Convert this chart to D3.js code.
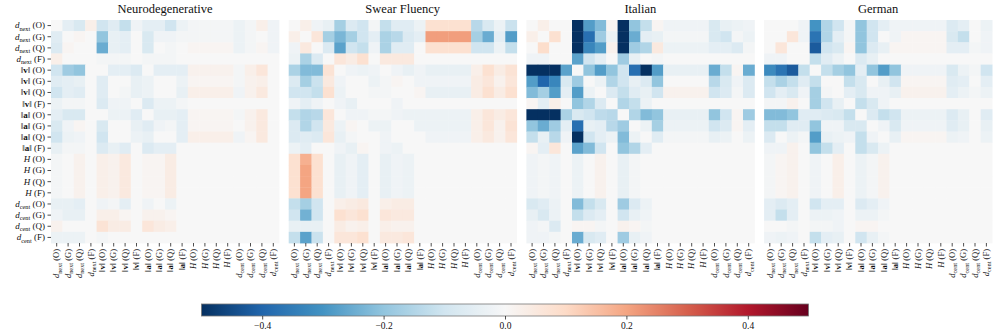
<!DOCTYPE html>
<html lang="en">
  <head>
    <meta charset="UTF-8" />
    <title>Metric correlation differences</title>
    <script src="https://d3js.org/d3.v7.min.js"></script>
    <style>
      body {
        margin: 0;
        background: #fff;
        font-family: 'Liberation Serif', 'DejaVu Serif', serif;
      }
      text {
        fill: #111;
        font-weight: normal;
      }
      .tick-line {
        stroke: #222;
        stroke-width: 0.8px;
      }
    </style>
  </head>
  <body>
    <svg width="997" height="335"></svg>
    <script>
      // row / column order of every matrix
      const metrics = ['next', 'v', 'a', 'H', 'cent'];
      const variants = ['O', 'G', 'Q', 'F'];
      const panelTitles = ['Neurodegenerative', 'Swear Fluency', 'Italian', 'German'];
      const colorTicks = [-0.4, -0.2, 0.0, 0.2, 0.4];

      const neuro = [
        [0, -.05, -.08, .03, -.1, -.06, -.12, -.02, -.05, -.05, -.1, -.03, -.01, -.01, -.01, -.01, -.03, -.01, .03, -.02],
        [-.06, 0, .01, 0, -.2, -.04, -.05, 0, -.08, -.02, -.02, -.01, -.01, -.01, -.01, -.01, -.03, -.01, 0, -.02],
        [-.07, .01, 0, 0, -.25, -.04, -.05, 0, -.08, 0, -.01, 0, .01, .01, .01, .01, -.03, -.01, .01, -.02],
        [.03, 0, 0, 0, -.01, -.01, -.01, 0, -.01, -.01, -.01, 0, 0, 0, 0, 0, 0, 0, 0, 0],
        [-.1, -.18, -.2, 0, 0, -.05, -.05, -.07, 0, -.05, -.05, -.05, .02, .02, .02, .02, -.01, .03, .06, 0],
        [-.06, -.05, -.04, 0, -.06, 0, 0, -.04, -.03, 0, 0, -.03, .01, .01, .01, .01, -.01, .02, .03, 0],
        [-.1, -.05, -.06, 0, -.06, 0, -.01, -.04, -.03, 0, 0, -.04, .03, .03, .03, .03, -.02, .02, .05, 0],
        [-.03, -.01, -.01, 0, -.07, -.02, -.02, 0, -.07, -.03, -.03, -.01, 0, 0, 0, 0, 0, 0, 0, 0],
        [-.05, -.08, -.08, 0, 0, -.03, -.03, -.06, 0, -.04, -.04, -.05, .01, .01, .01, .01, -.01, .02, .05, 0],
        [-.08, -.02, .01, 0, -.08, 0, 0, -.04, -.06, -.02, -.01, -.05, .01, .01, .01, .01, 0, .02, .05, 0],
        [-.1, -.03, -.02, 0, -.1, 0, 0, -.03, -.04, 0, 0, -.05, .03, .03, .03, .03, -.02, .01, .05, 0],
        [-.04, -.01, -.01, 0, -.07, -.04, -.06, 0, -.07, -.05, -.05, 0, 0, 0, 0, 0, 0, 0, 0, 0],
        [-.01, 0, .02, 0, .03, .02, .05, 0, .01, .01, .04, 0, 0, 0, 0, 0, 0, 0, 0, 0],
        [-.01, 0, .02, 0, .03, .02, .05, 0, .01, .01, .04, 0, 0, 0, 0, 0, 0, 0, 0, 0],
        [-.01, 0, .02, 0, .03, .02, .05, 0, .01, .01, .04, 0, 0, 0, 0, 0, 0, 0, 0, 0],
        [-.01, 0, .02, 0, .03, .02, .05, 0, .01, .01, .04, 0, 0, 0, 0, 0, 0, 0, 0, 0],
        [-.04, -.04, -.05, 0, -.02, -.01, -.05, 0, -.02, 0, -.03, 0, 0, 0, 0, 0, 0, 0, 0, 0],
        [-.02, -.04, -.04, 0, .03, .03, .01, 0, .02, .02, .01, 0, 0, 0, 0, 0, 0, 0, 0, 0],
        [.02, 0, 0, 0, .07, .04, .04, 0, .06, .04, .03, 0, 0, 0, 0, 0, 0, 0, 0, 0],
        [-.03, -.03, -.03, 0, -.01, 0, 0, 0, 0, 0, 0, 0, 0, 0, 0, 0, 0, 0, 0, 0],
      ];

      const swear = [
        [0, .03, -.02, -.04, -.17, -.07, -.1, -.01, -.12, -.06, -.06, -.03, .08, .08, .08, .08, -.14, -.08, -.03, -.11],
        [.03, 0, .06, -.17, -.23, -.17, -.1, -.05, -.16, -.14, -.07, -.05, .21, .21, .21, .21, -.17, -.25, -.05, -.28],
        [-.02, .05, 0, -.07, -.27, -.1, -.12, -.02, -.16, -.06, -.06, 0, .08, .08, .08, .08, -.1, -.1, -.03, -.12],
        [-.03, -.16, -.07, 0, .06, .04, .08, 0, .05, .05, .05, 0, 0, 0, 0, 0, 0, 0, 0, 0],
        [-.16, -.22, -.22, .07, 0, -.02, -.03, -.02, 0, -.02, -.04, -.02, -.04, -.04, -.04, -.04, .03, .08, .04, .07],
        [-.07, -.17, -.11, .05, -.02, 0, 0, -.03, -.01, .01, 0, -.02, -.02, -.02, -.02, -.02, .04, .06, .02, .06],
        [-.1, -.1, -.12, .08, -.03, 0, 0, -.01, -.01, 0, 0, .01, -.04, -.04, -.04, -.04, .04, .08, .04, .08],
        [-.02, -.05, -.02, 0, -.02, -.04, 0, 0, 0, -.02, 0, 0, 0, 0, 0, 0, 0, 0, 0, 0],
        [-.12, -.15, -.14, .06, 0, -.02, -.02, -.01, -.01, -.02, -.03, -.03, -.03, -.03, -.03, -.03, .03, .06, .04, .06],
        [-.07, -.15, -.1, .05, -.03, .01, 0, -.03, -.03, 0, 0, -.03, -.03, -.03, -.03, -.03, .03, .06, .02, .07],
        [-.07, -.06, -.07, .06, -.04, -.01, 0, 0, -.02, 0, 0, 0, -.02, -.02, -.02, -.02, .03, .05, .02, .06],
        [-.03, -.05, 0, 0, -.02, -.04, .01, 0, -.02, -.03, 0, 0, 0, 0, 0, 0, 0, 0, 0, 0],
        [.08, .18, .08, 0, -.04, -.02, -.05, 0, -.04, -.02, -.03, 0, 0, 0, 0, 0, 0, 0, 0, 0],
        [.08, .2, .08, 0, -.04, -.02, -.05, 0, -.04, -.02, -.03, 0, 0, 0, 0, 0, 0, 0, 0, 0],
        [.08, .2, .08, 0, -.04, -.02, -.05, 0, -.04, -.02, -.03, 0, 0, 0, 0, 0, 0, 0, 0, 0],
        [.08, .2, .08, 0, -.04, -.02, -.05, 0, -.04, -.02, -.03, 0, 0, 0, 0, 0, 0, 0, 0, 0],
        [-.12, -.17, -.1, 0, .03, .04, .05, 0, .03, .04, .04, 0, 0, 0, 0, 0, 0, 0, 0, 0],
        [-.1, -.24, -.1, 0, .08, .06, .08, 0, .06, .05, .05, 0, 0, 0, 0, 0, 0, 0, 0, 0],
        [-.04, -.04, -.04, 0, .04, .02, .03, 0, .03, .02, .02, 0, 0, 0, 0, 0, 0, 0, 0, 0],
        [-.12, -.27, -.11, 0, .06, .06, .08, 0, .05, .05, .06, 0, 0, 0, 0, 0, 0, 0, 0, 0],
      ];

      const italian = [
        [0, .03, 0, 0, -.5, -.28, -.22, .01, -.5, -.2, -.12, .01, -.02, -.02, -.02, -.02, -.08, -.04, -.03, -.02],
        [.03, 0, .08, 0, -.5, -.38, -.18, -.03, -.5, -.25, -.05, -.04, -.01, -.01, -.01, -.01, -.08, -.1, -.01, -.03],
        [0, .09, 0, 0, -.5, -.33, -.28, .02, -.5, -.18, -.15, .05, -.03, -.03, -.03, -.03, -.05, -.05, -.07, -.01],
        [-.02, -.02, 0, 0, -.27, -.1, -.05, 0, -.18, -.04, 0, -.01, 0, 0, 0, 0, 0, 0, 0, 0],
        [-.5, -.5, -.5, -.27, 0, -.2, -.28, -.2, -.1, -.38, -.5, -.28, -.04, -.04, -.04, -.04, -.25, -.12, .01, -.25],
        [-.28, -.4, -.33, -.08, -.18, 0, -.03, -.15, -.1, -.04, -.07, -.2, 0, 0, 0, 0, -.14, -.08, -.02, -.07],
        [-.22, -.17, -.28, -.05, -.28, -.03, 0, -.07, -.12, -.06, -.04, -.1, .02, .02, .02, .02, -.1, -.07, -.01, -.07],
        [.01, -.05, .03, 0, -.2, -.15, -.07, 0, -.15, -.12, -.03, 0, 0, 0, 0, 0, 0, 0, 0, 0],
        [-.5, -.5, -.5, -.16, -.08, -.1, -.13, -.14, 0, -.15, -.22, -.2, -.04, -.04, -.04, -.04, -.2, -.1, .01, -.18],
        [-.2, -.25, -.18, -.05, -.38, -.04, -.05, -.14, -.18, 0, -.03, -.17, -.03, -.03, -.03, -.03, -.1, -.07, .01, -.05],
        [-.12, -.04, -.14, -.02, -.5, -.1, -.05, -.03, -.22, -.03, 0, -.06, -.01, -.01, -.01, -.01, -.04, -.03, 0, -.03],
        [.01, -.05, .06, 0, -.27, -.22, -.1, 0, -.2, -.15, -.05, 0, 0, 0, 0, 0, 0, 0, 0, 0],
        [-.02, -.01, -.02, 0, -.03, 0, .02, 0, -.04, -.01, 0, 0, 0, 0, 0, 0, 0, 0, 0, 0],
        [-.02, -.01, -.02, 0, -.03, 0, .02, 0, -.04, -.01, 0, 0, 0, 0, 0, 0, 0, 0, 0, 0],
        [-.02, -.01, -.02, 0, -.03, 0, .02, 0, -.04, -.01, 0, 0, 0, 0, 0, 0, 0, 0, 0, 0],
        [-.02, -.01, -.02, 0, -.03, 0, .02, 0, -.04, -.01, 0, 0, 0, 0, 0, 0, 0, 0, 0, 0],
        [-.08, -.06, -.03, 0, -.22, -.12, -.08, 0, -.18, -.07, -.03, 0, 0, 0, 0, 0, 0, 0, 0, 0],
        [-.04, -.08, -.03, 0, -.12, -.07, -.05, 0, -.1, -.04, -.02, 0, 0, 0, 0, 0, 0, 0, 0, 0],
        [-.02, -.01, -.07, 0, .01, .01, -.01, 0, .02, .01, -.01, 0, 0, 0, 0, 0, 0, 0, 0, 0],
        [-.02, -.02, -.01, 0, -.25, -.08, -.06, 0, -.18, -.04, -.02, 0, 0, 0, 0, 0, 0, 0, 0, 0],
      ];

      const german = [
        [0, 0, 0, -.02, -.3, -.15, -.1, -.01, -.2, -.1, -.05, -.02, -.02, -.02, -.02, -.02, -.07, -.05, 0, -.03],
        [0, 0, .06, -.02, -.37, -.15, -.05, -.01, -.2, -.1, 0, -.02, .01, .01, .01, .01, -.08, -.12, 0, -.02],
        [0, .06, 0, 0, -.42, -.1, -.08, .01, -.2, -.07, -.04, .01, .01, .01, .01, .01, -.05, -.05, -.01, -.02],
        [-.02, -.02, 0, 0, -.12, -.06, -.03, 0, -.07, -.04, 0, 0, 0, 0, 0, 0, 0, 0, 0, 0],
        [-.32, -.37, -.42, -.12, 0, -.12, -.17, -.2, -.05, -.2, -.28, -.2, -.02, -.02, -.02, -.02, -.08, -.03, -.01, -.1],
        [-.12, -.16, -.12, -.06, -.12, 0, 0, -.12, -.08, 0, -.04, -.1, .01, .01, .01, .01, -.06, -.05, 0, -.05],
        [-.1, -.05, -.08, -.02, -.17, -.01, 0, -.05, -.08, -.02, -.02, -.04, .02, .02, .02, .02, -.05, -.03, -.01, -.03],
        [-.01, -.01, .02, 0, -.17, -.1, -.04, 0, -.12, -.08, -.02, 0, 0, 0, 0, 0, 0, 0, 0, 0],
        [-.22, -.22, -.2, -.06, -.06, -.07, -.08, -.12, 0, -.07, -.12, -.1, -.03, -.03, -.03, -.03, -.07, -.04, 0, -.06],
        [-.12, -.12, -.06, -.06, -.2, -.02, -.02, -.08, -.08, 0, -.02, -.08, -.02, -.02, -.02, -.02, -.06, -.04, 0, -.04],
        [-.07, 0, -.03, -.01, -.28, -.04, -.03, -.02, -.12, -.02, 0, -.04, .01, .01, .01, .01, -.03, -.02, 0, -.03],
        [-.02, -.02, .02, 0, -.2, -.12, -.05, 0, -.12, -.08, -.03, 0, 0, 0, 0, 0, 0, 0, 0, 0],
        [-.01, .01, .02, 0, -.02, 0, .03, 0, -.03, -.01, .02, 0, 0, 0, 0, 0, 0, 0, 0, 0],
        [-.01, .01, .02, 0, -.02, 0, .03, 0, -.03, -.01, .02, 0, 0, 0, 0, 0, 0, 0, 0, 0],
        [-.01, .01, .02, 0, -.02, 0, .03, 0, -.03, -.01, .02, 0, 0, 0, 0, 0, 0, 0, 0, 0],
        [-.01, .01, .02, 0, -.02, 0, .03, 0, -.03, -.01, .02, 0, 0, 0, 0, 0, 0, 0, 0, 0],
        [-.05, -.07, -.05, 0, -.1, -.05, -.05, 0, -.07, -.05, -.02, 0, 0, 0, 0, 0, 0, 0, 0, 0],
        [-.05, -.12, -.05, 0, -.03, -.03, -.02, 0, -.03, -.03, -.01, 0, 0, 0, 0, 0, 0, 0, 0, 0],
        [0, 0, -.01, 0, -.01, -.01, -.02, 0, .01, .01, 0, 0, 0, 0, 0, 0, 0, 0, 0, 0],
        [-.02, -.03, -.02, 0, -.12, -.05, -.04, 0, -.1, -.04, -.01, 0, 0, 0, 0, 0, 0, 0, 0, 0],
      ];

      const panels = [neuro, swear, italian, german];

      const labels = metrics.flatMap((m) => variants.map((v) => ({ m, v })));

      const svg = d3.select('svg');

      const heatW = 228;
      const heatH = 223;
      const marginTop = 20;

      const panelX = d3.scaleBand()
        .domain(d3.range(panels.length))
        .range([51, 51 + 237.7 * panels.length])
        .paddingInner(0);

      const x = d3.scaleBand().domain(d3.range(20)).range([0, heatW]);
      const y = d3.scaleBand().domain(d3.range(20)).range([0, heatH]);

      // matplotlib-style RdBu_r: straight linear blend between the 11 anchor colours
      const rdbu = d3.schemeRdBu[11].slice().reverse();
      const color = d3.scaleLinear()
        .domain(d3.range(11).map((i) => -0.5 + i * 0.1))
        .range(rdbu)
        .interpolate(d3.interpolateRgb)
        .clamp(true);

      // label pieces: italic / bold / subscript bits like the LaTeX ticks
      function labelParts(d) {
        const tail = { t: ` (${d.v})` };
        if (d.m === 'next' || d.m === 'cent') {
          return [{ t: 'd', it: true }, { t: d.m, sub: true }, tail];
        }
        if (d.m === 'H') return [{ t: 'H', it: true }, tail];
        return [{ t: '\u2016' }, { t: d.m, bold: true }, { t: '\u2016' }, tail];
      }

      function writeLabel(sel) {
        sel.each(function (d) {
          const t = d3.select(this);
          let shifted = false;
          labelParts(d).forEach((p) => {
            const ts = t.append('tspan').text(p.t);
            if (p.it) ts.style('font-style', 'italic');
            if (p.bold) ts.style('font-weight', 'bold');
            if (p.sub) {
              ts.attr('dy', 2.2).style('font-size', '6.3px');
              shifted = true;
            } else if (shifted) {
              ts.attr('dy', -2.2);
              shifted = false;
            }
          });
        });
      }

      panels.forEach((mat, pi) => {
        const g = svg.append('g').attr('transform', `translate(${panelX(pi)},${marginTop})`);

        const cells = mat.flatMap((row, r) => row.map((v, c) => ({ r, c, v })));

        g.selectAll('rect')
          .data(cells)
          .join('rect')
          .attr('x', (d) => x(d.c))
          .attr('y', (d) => y(d.r))
          .attr('width', x.bandwidth() + 0.4)
          .attr('height', y.bandwidth() + 0.4)
          .attr('fill', (d) => color(d.v));

        g.append('text')
          .attr('x', heatW / 2)
          .attr('y', -7)
          .attr('text-anchor', 'middle')
          .style('font-size', '12.5px')
          .text(panelTitles[pi]);

        // x ticks + rotated labels
        const xt = g.selectAll('.xtick')
          .data(labels)
          .join('g')
          .attr('class', 'xtick')
          .attr('transform', (d, i) => `translate(${x(i) + x.bandwidth() / 2},${heatH})`);
        xt.append('line').attr('class', 'tick-line').attr('y2', 3.5);
        xt.append('text')
          .attr('transform', 'translate(0,6) rotate(-90)')
          .attr('text-anchor', 'end')
          .attr('dy', '0.32em')
          .style('font-size', '8.5px')
          .call(writeLabel);

        if (pi === 0) {
          const yt = g.selectAll('.ytick')
            .data(labels)
            .join('g')
            .attr('class', 'ytick')
            .attr('transform', (d, i) => `translate(0,${y(i) + y.bandwidth() / 2})`);
          yt.append('line').attr('class', 'tick-line').attr('x2', -3.5);
          yt.append('text')
            .attr('x', -6)
            .attr('text-anchor', 'end')
            .attr('dy', '0.32em')
            .style('font-size', '9px')
            .call(writeLabel);
        }
      });

      // colorbar
      const cb = { x0: 201.5, x1: 808.5, y: 304, h: 12 };
      const cbScale = d3.scaleLinear().domain([-0.5, 0.5]).range([cb.x0, cb.x1]);

      const grad = svg.append('defs')
        .append('linearGradient')
        .attr('id', 'cbgrad');
      grad.selectAll('stop')
        .data(d3.range(0, 1.0001, 0.02))
        .join('stop')
        .attr('offset', (t) => `${t * 100}%`)
        .attr('stop-color', (t) => color(-0.5 + t));

      svg.append('rect')
        .attr('x', cb.x0)
        .attr('y', cb.y)
        .attr('width', cb.x1 - cb.x0)
        .attr('height', cb.h)
        .attr('fill', 'url(#cbgrad)')
        .attr('stroke', '#777')
        .attr('stroke-width', 0.8);

      const cbAxis = svg.append('g')
        .attr('transform', `translate(0,${cb.y + cb.h})`)
        .call(
          d3.axisBottom(cbScale)
            .tickValues(colorTicks)
            .tickSize(3.5)
            .tickFormat((v) => d3.format('.1f')(v).replace('-', '\u2212'))
        );
      cbAxis.select('.domain').remove();
      cbAxis.selectAll('line').attr('stroke', '#222').attr('stroke-width', 0.8);
      cbAxis.selectAll('text')
        .attr('y', 6)
        .style('font-family', "'Liberation Serif', serif")
        .style('font-size', '9.5px')
        .attr('fill', '#111');
    </script>
  </body>
</html>
